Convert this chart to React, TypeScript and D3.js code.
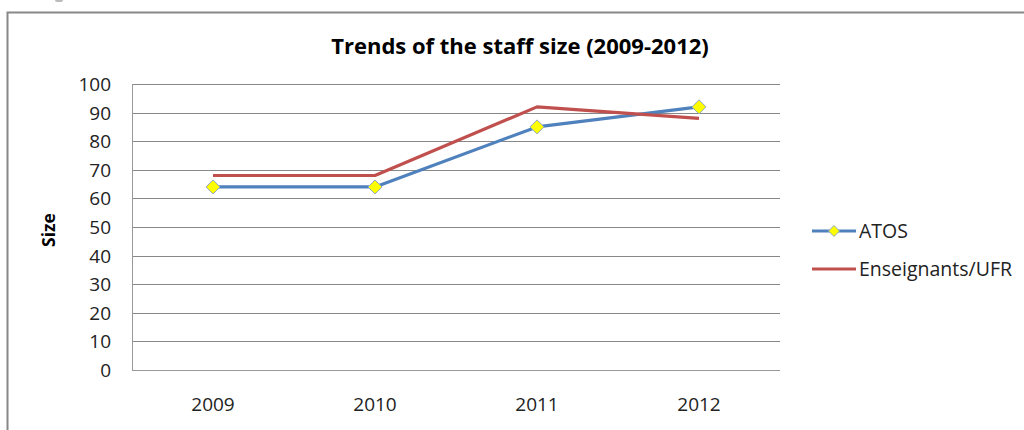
import React from "react";
import * as d3 from "d3";

const years = ["2009", "2010", "2011", "2012"];
const atos = [64, 64, 85, 92];
const enseignants = [68, 68, 92, 88];
const yTicks = [0, 10, 20, 30, 40, 50, 60, 70, 80, 90, 100];
const title = "Trends of the staff size (2009-2012)";
const yLabel = "Size";
const seriesNames = ["ATOS", "Enseignants/UFR"];

const W = 1024;
const H = 430;
const left = 132;
const right = 780;
const top = 84;
const bottom = 370;
const FONT = "'Open Sans', 'Noto Sans', sans-serif";

export default function App() {
  const x = d3.scaleBand().domain(years).range([left, right]).paddingInner(0).paddingOuter(0);
  const cx = (d: string) => (x(d) as number) + x.bandwidth() / 2;
  const y = d3.scaleLinear().domain([0, 100]).range([bottom, top]);
  const line = d3
    .line<number>()
    .x((_, i) => cx(years[i]))
    .y((v) => y(v));
  const diamond = (px: number, py: number, r = 7) =>
    `M${px},${py - r}L${px + r},${py}L${px},${py + r}L${px - r},${py}Z`;

  return (
    <svg width={W} height={H} style={{ position: "absolute", left: 0, top: 0, background: "#fff" }}>
      <rect x={0} y={0} width={W} height={H} fill="#fff" />
      <rect x={55} y={-2} width={8} height={4} rx={2} fill="#bbb" />
      <path d={`M7.5,${H + 5}V12.5H${W + 5}`} fill="none" stroke="#888" strokeWidth={2} />
      <text x={520} y={54} textAnchor="middle" fontFamily={FONT} fontWeight="bold" fontSize={22} fill="#000">
        {title}
      </text>
      {yTicks.map((t) => (
        <g key={t}>
          <line x1={left} x2={right} y1={Math.round(y(t)) + 0.5} y2={Math.round(y(t)) + 0.5} stroke={t === 0 ? "#999" : "#888"} strokeWidth={1} />
          <text x={111} y={y(t) + 7} textAnchor="end" fontFamily={FONT} fontSize={19} fill="#222">
            {t}
          </text>
        </g>
      ))}
      <line x1={left + 0.5} x2={left + 0.5} y1={top} y2={bottom} stroke="#999" strokeWidth={1} />
      {years.map((yr) => (
        <text key={yr} x={cx(yr)} y={411} textAnchor="middle" fontFamily={FONT} fontSize={19} fill="#222">
          {yr}
        </text>
      ))}
      <text
        transform={`translate(55,230) rotate(-90)`}
        textAnchor="middle"
        fontFamily={FONT}
        fontWeight="bold"
        fontSize={17.5}
        fill="#000"
      >
        {yLabel}
      </text>
      <path d={line(atos) || ""} fill="none" stroke="#4F81BD" strokeWidth={3.2} strokeLinejoin="round" />
      <path d={line(enseignants) || ""} fill="none" stroke="#C0504D" strokeWidth={3.2} strokeLinejoin="round" />
      {atos.map((v, i) => (
        <path key={i} d={diamond(cx(years[i]), y(v))} fill="#FFFF00" stroke="#8EA9C1" strokeWidth={1} />
      ))}
      <g>
        <line x1={812} x2={856} y1={231} y2={231} stroke="#4F81BD" strokeWidth={3.2} />
        <path d={diamond(834, 231, 5.5)} fill="#FFFF00" stroke="#8EA9C1" strokeWidth={1} />
        <text x={859} y={238} fontFamily={FONT} fontSize={19.5} fill="#222">
          {seriesNames[0]}
        </text>
        <line x1={812} x2={856} y1={269} y2={269} stroke="#C0504D" strokeWidth={3.2} />
        <text x={859} y={276} fontFamily={FONT} fontSize={19.5} fill="#222">
          {seriesNames[1]}
        </text>
      </g>
    </svg>
  );
}
